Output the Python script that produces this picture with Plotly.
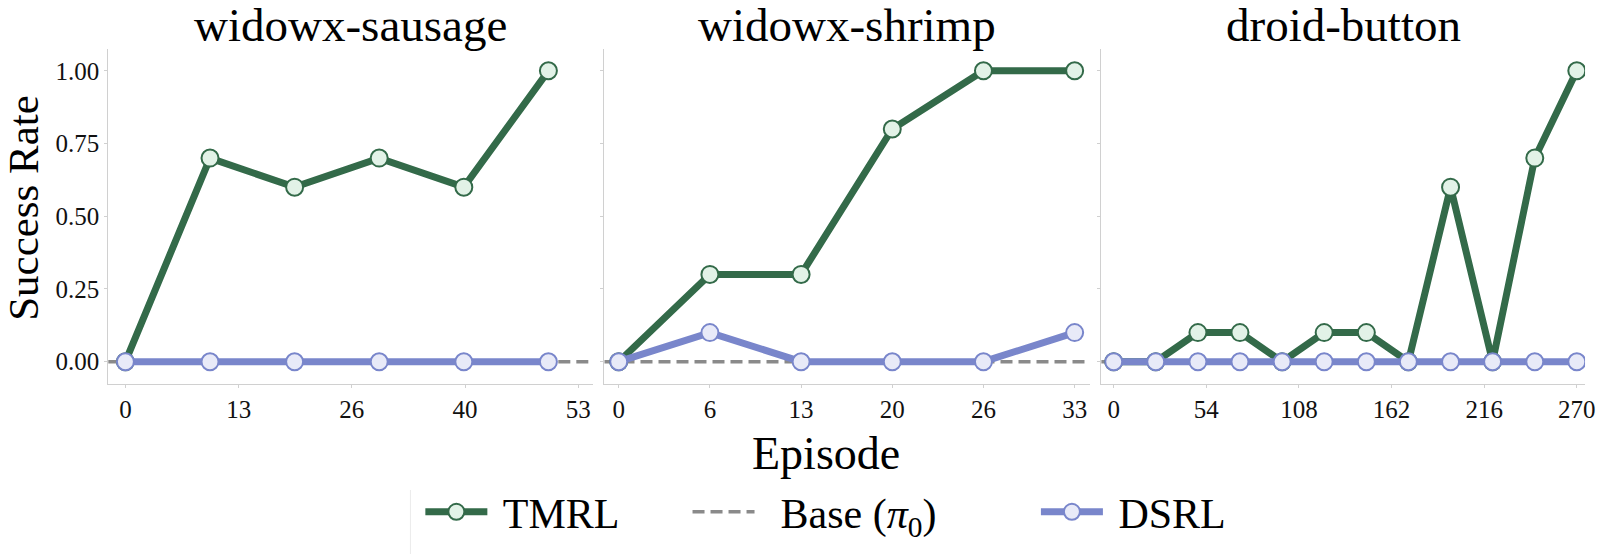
import plotly.graph_objects as go

# ---------------- data ----------------
panel_titles = ["widowx-sausage", "widowx-shrimp", "droid-button"]
legend_names = ["TMRL", "Base (<i>π</i><sub>0</sub>)", "DSRL"]

sausage_x = [0, 9.9, 19.8, 29.7, 39.6, 49.5]
sausage_tmrl = [0.0, 0.7, 0.6, 0.7, 0.6, 1.0]
sausage_dsrl = [0.0, 0.0, 0.0, 0.0, 0.0, 0.0]

shrimp_x = [0, 6.6, 13.2, 19.8, 26.4, 33]
shrimp_tmrl = [0.0, 0.3, 0.3, 0.8, 1.0, 1.0]
shrimp_dsrl = [0.0, 0.1, 0.0, 0.0, 0.0, 0.1]

button_x = [0, 24.5, 49.1, 73.6, 98.2, 122.7, 147.3, 171.8, 196.4, 220.9, 245.5, 270]
button_tmrl = [0.0, 0.0, 0.1, 0.1, 0.0, 0.1, 0.1, 0.0, 0.6, 0.0, 0.7, 1.0]
button_dsrl = [0.0, 0.0, 0.0, 0.0, 0.0, 0.0, 0.0, 0.0, 0.0, 0.0, 0.0, 0.0]

base_value = 0.0

sausage_tickvals = [0, 13.25, 26.5, 39.75, 53]
sausage_ticktext = ["0", "13", "26", "40", "53"]
shrimp_tickvals = [0, 6.6, 13.2, 19.8, 26.4, 33]
shrimp_ticktext = ["0", "6", "13", "20", "26", "33"]
button_tickvals = [0, 54, 108, 162, 216, 270]
button_ticktext = ["0", "54", "108", "162", "216", "270"]

y_tickvals = [0, 0.25, 0.5, 0.75, 1.0]
y_ticktext = ["0.00", "0.25", "0.50", "0.75", "1.00"]

# ---------------- style ----------------
FONT = "Liberation Serif"
GREEN = "#336A49"
GREEN_FILL = "#E2F2E7"
BLUE = "#7986CB"
BLUE_FILL = "#E8EAF8"
GRAY = "#8A8A8A"
SPINE = "#D0D0D0"
NB = "\u00a0"

W, H = 1600, 554
x_domains = [[109 / W, 597 / W], [608.3 / W, 1096.7 / W], [1108.3 / W, 1595 / W]]
y_domain = [1 - 383.5 / H, 1 - 49 / H]
x_ranges = [[-2.0, 54.75], [-1.03, 34.1], [-7.2, 274.8]]
y_range = [-0.075, 1.075]

panels = [
    (sausage_x, sausage_tmrl, sausage_dsrl, sausage_tickvals, sausage_ticktext),
    (shrimp_x, shrimp_tmrl, shrimp_dsrl, shrimp_tickvals, shrimp_ticktext),
    (button_x, button_tmrl, button_dsrl, button_tickvals, button_ticktext),
]

# legend label padding (leading, trailing) in non-breaking spaces
legend_pad = [(1, 6), (2, 9), (1, 0)]
legend_labels = [NB * a + s + NB * b for s, (a, b) in zip(legend_names, legend_pad)]

fig = go.Figure()
layout = {}
annotations = []
shapes = []

for i, (xs, tm, ds, tv, tt) in enumerate(panels):
    n = "" if i == 0 else str(i + 1)
    xa, ya = "x" + n, "y" + n
    show = i == 0
    fig.add_trace(go.Scatter(
        x=xs, y=tm, xaxis=xa, yaxis=ya, mode="lines+markers", name=legend_labels[0],
        line=dict(color=GREEN, width=7),
        marker=dict(size=17, color=GREEN_FILL, line=dict(color=GREEN, width=2)),
        showlegend=show, legendrank=1,
    ))
    if i == 0:
        fig.add_trace(go.Scatter(
            x=[None], y=[None], xaxis=xa, yaxis=ya, mode="lines", name=legend_labels[1],
            line=dict(color=GRAY, width=3.5, dash="12px,6px"), showlegend=True, legendrank=2,
        ))
    fig.add_trace(go.Scatter(
        x=xs, y=ds, xaxis=xa, yaxis=ya, mode="lines+markers", name=legend_labels[2],
        line=dict(color=BLUE, width=7),
        marker=dict(size=17, color=BLUE_FILL, line=dict(color=BLUE, width=2)),
        showlegend=show, legendrank=3,
    ))
    shapes.append(dict(
        type="line", xref=f"{xa} domain", yref=ya, x0=0, x1=1, y0=base_value, y1=base_value,
        line=dict(color=GRAY, width=3.5, dash="12px,6px"), layer="below",
    ))
    layout["xaxis" + n] = dict(
        domain=x_domains[i], range=x_ranges[i], anchor=ya,
        tickmode="array", tickvals=tv, ticktext=tt, ticklabeloverflow="allow",
        showgrid=False, zeroline=False, showline=True, linecolor=SPINE, linewidth=1,
        ticks="outside", ticklen=3, tickcolor=SPINE,
        tickfont=dict(family=FONT, size=25, color="#111"),
    )
    layout["yaxis" + n] = dict(
        domain=y_domain, range=y_range, anchor=xa,
        tickmode="array", tickvals=y_tickvals, ticktext=y_ticktext,
        showticklabels=(i == 0),
        showgrid=False, zeroline=False, showline=True, linecolor=SPINE, linewidth=1,
        ticks="outside", ticklen=3, tickcolor=SPINE,
        tickfont=dict(family=FONT, size=25, color="#111"),
    )
    annotations.append(dict(
        text=panel_titles[i], x=(x_domains[i][0] + x_domains[i][1]) / 2, y=1 - 25 / H,
        xref="paper", yref="paper", xanchor="center", yanchor="middle", showarrow=False,
        font=dict(family=FONT, size=47, color="#000"),
    ))

annotations.append(dict(
    text="Success Rate", x=23 / W, y=1 - 208 / H, xref="paper", yref="paper",
    xanchor="center", yanchor="middle", textangle=-90, showarrow=False,
    font=dict(family=FONT, size=43, color="#000"),
))
annotations.append(dict(
    text="Episode", x=831 / W, y=1 - 453 / H, xref="paper", yref="paper",
    xanchor="center", yanchor="middle", showarrow=False,
    font=dict(family=FONT, size=46, color="#000"),
))

# faint legend frame edge visible in the reference
shapes.append(dict(type="line", xref="paper", yref="paper",
                   x0=413 / W, x1=413 / W, y0=0, y1=1 - 490 / H,
                   line=dict(color="#EBEBEB", width=1)))

fig.update_layout(
    width=W, height=H, margin=dict(l=0, r=0, t=0, b=0),
    paper_bgcolor="white", plot_bgcolor="white",
    annotations=annotations, shapes=shapes,
    legend=dict(
        orientation="h", x=423 / W, xanchor="left", y=1 - 512 / H, yanchor="middle",
        font=dict(family=FONT, size=42, color="#000"),
        itemwidth=62,
        bgcolor="rgba(0,0,0,0)", borderwidth=0,
    ),
    **layout,
)

fig.write_html("out.html")
